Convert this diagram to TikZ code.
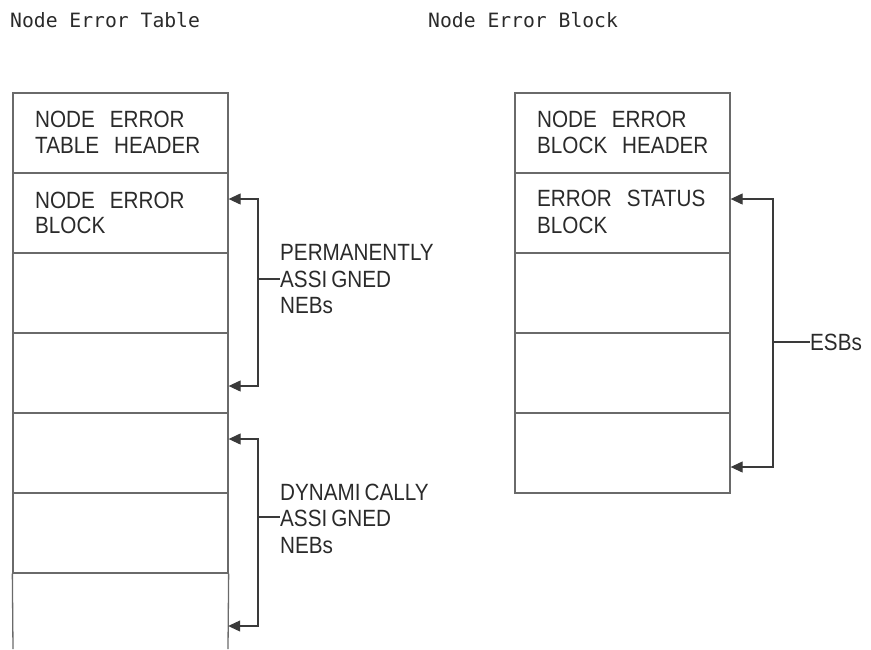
\documentclass[tikz,border=0pt]{standalone}
\usepackage{fontspec}
\setmainfont{Liberation Sans}[FakeStretch=0.88, WordSpace=2.6]
\newfontfamily\titlefont{DejaVu Sans Mono}
\usetikzlibrary{arrows.meta}
\definecolor{boxline}{HTML}{6A6A6A}
\definecolor{brkline}{HTML}{3A3A3A}
\definecolor{txt}{HTML}{2A2A2A}
\newcommand\narrowgap{\spaceskip=4pt\relax}
\tikzset{
  rowbox/.style={draw=boxline, line width=1.3pt, rectangle, inner sep=0pt,
    minimum width=215pt, minimum height=80pt},
  openrow/.style={rectangle, inner sep=0pt, minimum width=215pt, minimum height=76pt},
  sidebox/.style={draw=boxline, line width=1.3pt},
  boxtext/.style={anchor=base west, inner sep=0pt, text=txt,
    font=\fontsize{23.5}{26.5}\selectfont},
  titletext/.style={anchor=base west, inner sep=0pt, text=txt,
    font=\titlefont\fontsize{19.7}{22}\selectfont},
  brk/.style={draw=brkline, line width=1.1pt},
  tips/.style={{Triangle[length=12pt,width=11pt]}-{Triangle[length=12pt,width=11pt]}},
}
\begin{document}
\begin{tikzpicture}[x=1pt, y=-1pt]
\useasboundingbox (0,0) rectangle (871,649);
% titles
\node[titletext] (title1) at (10,27) {Node Error Table};
\node[titletext] (title2) at (428,27) {Node Error Block};
% left table rows
\node[rowbox] (t1) at (120.5,133) {};
\node[rowbox] (t2) at (120.5,213) {};
\node[rowbox] (t3) at (120.5,293) {};
\node[rowbox] (t4) at (120.5,373) {};
\node[rowbox] (t5) at (120.5,453) {};
\node[rowbox] (t6) at (120.5,533) {};
\node[openrow] (t7) at (120.5,611) {};
\draw[sidebox] (t6.south west) -- (13,649);
\draw[sidebox] (t6.south east) -- (228,649);
\node[boxtext] (t1a) at (35,127) {NODE ERROR};
\node[boxtext] (t1b) at (35,153) {TABLE HEADER};
\node[boxtext] (t2a) at (35,208) {NODE ERROR};
\node[boxtext] (t2b) at (35,233) {BLOCK};
% right table rows
\node[rowbox] (r1) at (622.5,133) {};
\node[rowbox] (r2) at (622.5,213) {};
\node[rowbox] (r3) at (622.5,293) {};
\node[rowbox] (r4) at (622.5,373) {};
\node[rowbox] (r5) at (622.5,453) {};
\node[boxtext] (r1a) at (537,127) {NODE ERROR};
\node[boxtext] (r1b) at (537,153) {BLOCK HEADER};
\node[boxtext] (r2a) at (537,206) {ERROR STATUS};
\node[boxtext] (r2b) at (537,233) {BLOCK};
% bracket 1: permanently assigned
\coordinate (p1) at (t2.east |- 0,199);
\coordinate (p2) at (t4.east |- 0,386);
\coordinate (pk) at (258,279);
\draw[brk, tips] (p1) -- (pk |- p1) -- (pk |- p2) -- (p2);
\node[boxtext] (pt1) at (280,260) {PERMANENTLY};
\node[boxtext] (pt2) at (280,287) {\narrowgap ASSI GNED};
\node[boxtext] (pt3) at (280,313) {NEBs};
\draw[brk] (pk) -- (pt2.west |- pk);
% bracket 2: dynamically assigned
\coordinate (d1) at (t5.east |- 0,439);
\coordinate (d2) at (t7.east |- 0,626);
\coordinate (dk) at (258,517);
\draw[brk, tips] (d1) -- (dk |- d1) -- (dk |- d2) -- (d2);
\node[boxtext] (dt1) at (280,500) {\narrowgap DYNAMI CALLY};
\node[boxtext] (dt2) at (280,526) {\narrowgap ASSI GNED};
\node[boxtext] (dt3) at (280,553) {NEBs};
\draw[brk] (dk) -- (dt2.west |- dk);
% bracket 3: ESBs
\coordinate (e1) at (r2.east |- 0,199);
\coordinate (e2) at (r5.east |- 0,467);
\coordinate (ek) at (773,342);
\draw[brk, tips] (e1) -- (ek |- e1) -- (ek |- e2) -- (e2);
\node[boxtext] (et) at (810,350) {ESBs};
\draw[brk] (ek) -- (et.west |- ek);
\end{tikzpicture}
\end{document}
